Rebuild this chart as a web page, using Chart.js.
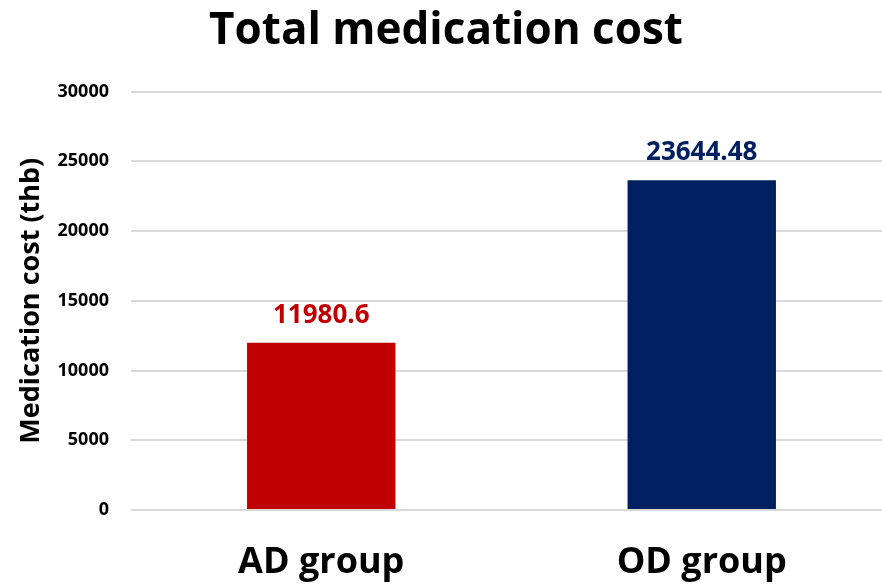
<!DOCTYPE html>
<html>
<head>
<meta charset="utf-8">
<script src="https://cdn.jsdelivr.net/npm/chart.js@4"></script>
<style>
html,body{margin:0;padding:0;overflow:hidden;background:#fff;}
#wrap{width:892px;height:586px;}
</style>
</head>
<body>
<div id="wrap"><canvas id="c" width="892" height="586"></canvas></div>
<script>
const categories = ["AD group", "OD group"];
const values = [11980.6, 23644.48];
const valueLabels = ["11980.6", "23644.48"];
const barColors = ["#C00000", "#002060"];
const yTicks = [0, 5000, 10000, 15000, 20000, 25000, 30000];

const FONT = "'Open Sans', Lato, sans-serif";

const dataLabelPlugin = {
  id: 'dataLabels',
  afterDatasetsDraw(chart) {
    const ctx = chart.ctx;
    const meta = chart.getDatasetMeta(0);
    ctx.save();
    ctx.font = "bold 26px " + FONT;
    ctx.textAlign = 'center';
    ctx.textBaseline = 'alphabetic';
    meta.data.forEach((bar, i) => {
      ctx.fillStyle = barColors[i];
      ctx.fillText(valueLabels[i], bar.x, bar.y - 20);
    });
    ctx.restore();
  }
};

new Chart(document.getElementById('c'), {
  type: 'bar',
  data: {
    labels: categories,
    datasets: [{
      data: values,
      backgroundColor: barColors,
      borderWidth: 0,
      categoryPercentage: 1,
      barPercentage: 0.39
    }]
  },
  options: {
    responsive: false,
    animation: false,
    layout: { padding: { left: 0, right: 0, top: 0, bottom: 0 } },
    plugins: {
      legend: { display: false },
      tooltip: { enabled: false },
      title: {
        display: true,
        text: "Total medication cost",
        color: "#000",
        font: { family: FONT, weight: 'bold', size: 44 },
        padding: { top: 5, bottom: 33.7 }
      }
    },
    scales: {
      x: {
        grid: { display: false, drawTicks: false },
        border: { display: false },
        ticks: {
          color: "#000",
          font: { family: FONT, weight: 'bold', size: 36 },
          padding: 31
        },
        afterFit(scale) { scale.height = 76; }
      },
      y: {
        min: 0,
        max: 30000,
        afterBuildTicks(scale) { scale.ticks = yTicks.map(v => ({ value: v })); },
        grid: { color: "#D9D9D9", lineWidth: 2, drawTicks: false },
        border: { display: false },
        ticks: {
          color: "#000",
          font: { family: FONT, weight: 'bold', size: 18 },
          padding: 22,
          callback: (v) => String(v)
        },
        title: {
          display: true,
          text: "Medication cost (thb)",
          color: "#000",
          font: { family: FONT, weight: 'bold', size: 27 },
          padding: { top: 15, bottom: 0 }
        },
        afterFit(scale) { scale.width = 131; }
      }
    }
  },
  plugins: [dataLabelPlugin]
});
</script>
</body>
</html>
